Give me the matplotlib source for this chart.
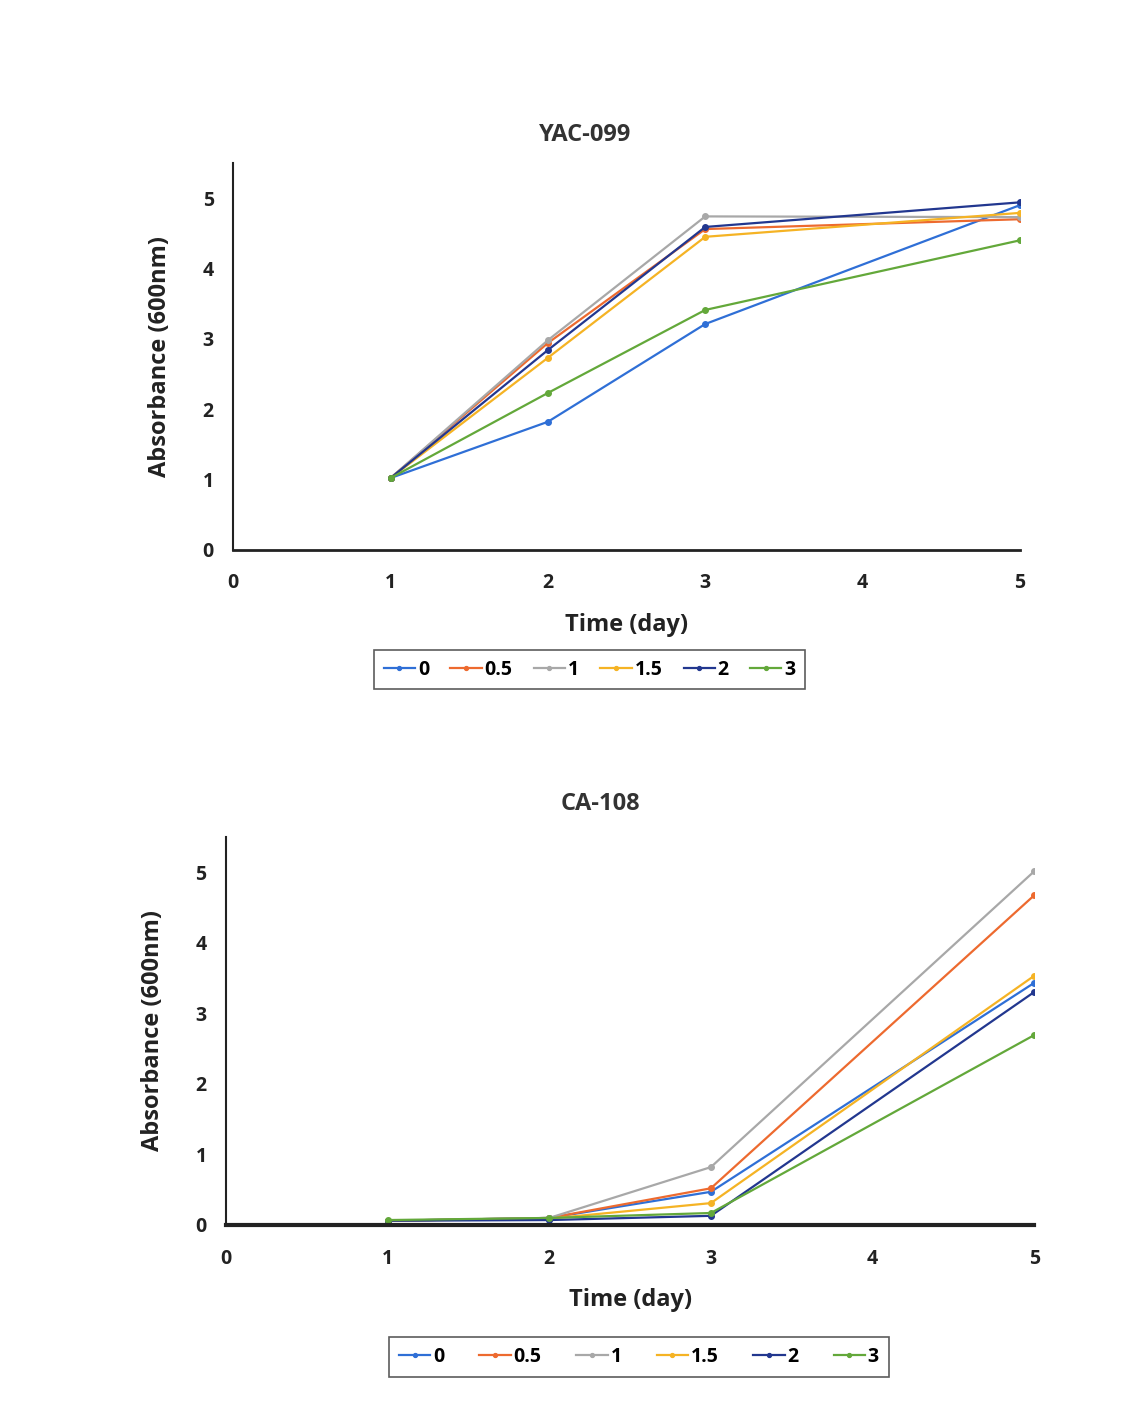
import matplotlib.pyplot as plt
import numpy as np

plt.rcParams['font.family'] = ['Open Sans', 'DejaVu Sans']

days = [1, 2, 3, 5]
conc_labels = ['0', '0.5', '1', '1.5', '2', '3']
colors = ['#2f6fd6', '#ed6a2f', '#a8a8a8', '#f5b324', '#22378f', '#63a83a']

# YAC-099 absorbance per concentration
yac_0 = [1.02, 1.82, 3.21, 4.90]
yac_05 = [1.02, 2.94, 4.56, 4.70]
yac_1 = [1.02, 2.98, 4.74, 4.73]
yac_15 = [1.02, 2.73, 4.45, 4.79]
yac_2 = [1.02, 2.84, 4.59, 4.94]
yac_3 = [1.02, 2.23, 3.41, 4.40]

# CA-108 absorbance per concentration
ca_0 = [0.06, 0.10, 0.47, 3.43]
ca_05 = [0.06, 0.10, 0.52, 4.67]
ca_1 = [0.06, 0.10, 0.82, 5.01]
ca_15 = [0.06, 0.09, 0.31, 3.53]
ca_2 = [0.06, 0.07, 0.13, 3.30]
ca_3 = [0.07, 0.10, 0.17, 2.69]

yac = [yac_0, yac_05, yac_1, yac_15, yac_2, yac_3]
ca = [ca_0, ca_05, ca_1, ca_15, ca_2, ca_3]

fig = plt.figure(figsize=(11.32, 14.17), dpi=100)
ax1 = fig.add_axes([0.206, 0.612, 0.695, 0.273])
ax2 = fig.add_axes([0.1996, 0.1355, 0.714, 0.274])


def draw(ax, series, title, title_x, title_pad, legend_box, spine_w, colsp):
    for vals, lab, c in zip(series, conc_labels, colors):
        ax.plot(days, vals, color=c, lw=1.6, marker='o', markersize=4, label=lab)
    ax.set_xlim(0, 5)
    ax.set_ylim(0, 5.5)
    ax.set_xticks(range(6))
    ax.set_yticks(range(6))
    ax.tick_params(axis='x', length=0, labelsize=14, pad=17)
    ax.tick_params(axis='y', length=0, labelsize=14, pad=14)
    for lbl in ax.get_xticklabels() + ax.get_yticklabels():
        lbl.set_fontweight('bold')
        lbl.set_color('#222222')
    for s in ['top', 'right']:
        ax.spines[s].set_visible(False)
    ax.spines['left'].set_linewidth(1.5)
    ax.spines['bottom'].set_linewidth(spine_w)
    ax.spines['left'].set_color('#222222')
    ax.spines['bottom'].set_color('#222222')
    ax.set_title(title, fontsize=17, fontweight='bold', color='#333333', pad=title_pad, x=title_x)
    ax.set_xlabel('Time (day)', fontsize=17, fontweight='bold', color='#222222', labelpad=14)
    ax.set_ylabel('Absorbance (600nm)', fontsize=17, fontweight='bold', color='#222222', labelpad=22)
    leg = ax.legend(loc='center', bbox_to_anchor=legend_box, ncol=6, frameon=True,
                    fancybox=False, edgecolor='#333333', handlelength=1.6,
                    columnspacing=colsp, handletextpad=0.15, borderpad=0.5,
                    prop={'size': 14, 'weight': 'bold'}, markerscale=0.7)
    leg.get_frame().set_linewidth(1.2)


draw(ax1, yac, 'YAC-099', 0.447, 16, (0.453, -0.31), 2.0, 1.1)
draw(ax2, ca, 'CA-108', 0.463, 19, (0.511, -0.34), 3.0, 1.8)

fig.savefig('out.png', dpi=100, facecolor='white')
